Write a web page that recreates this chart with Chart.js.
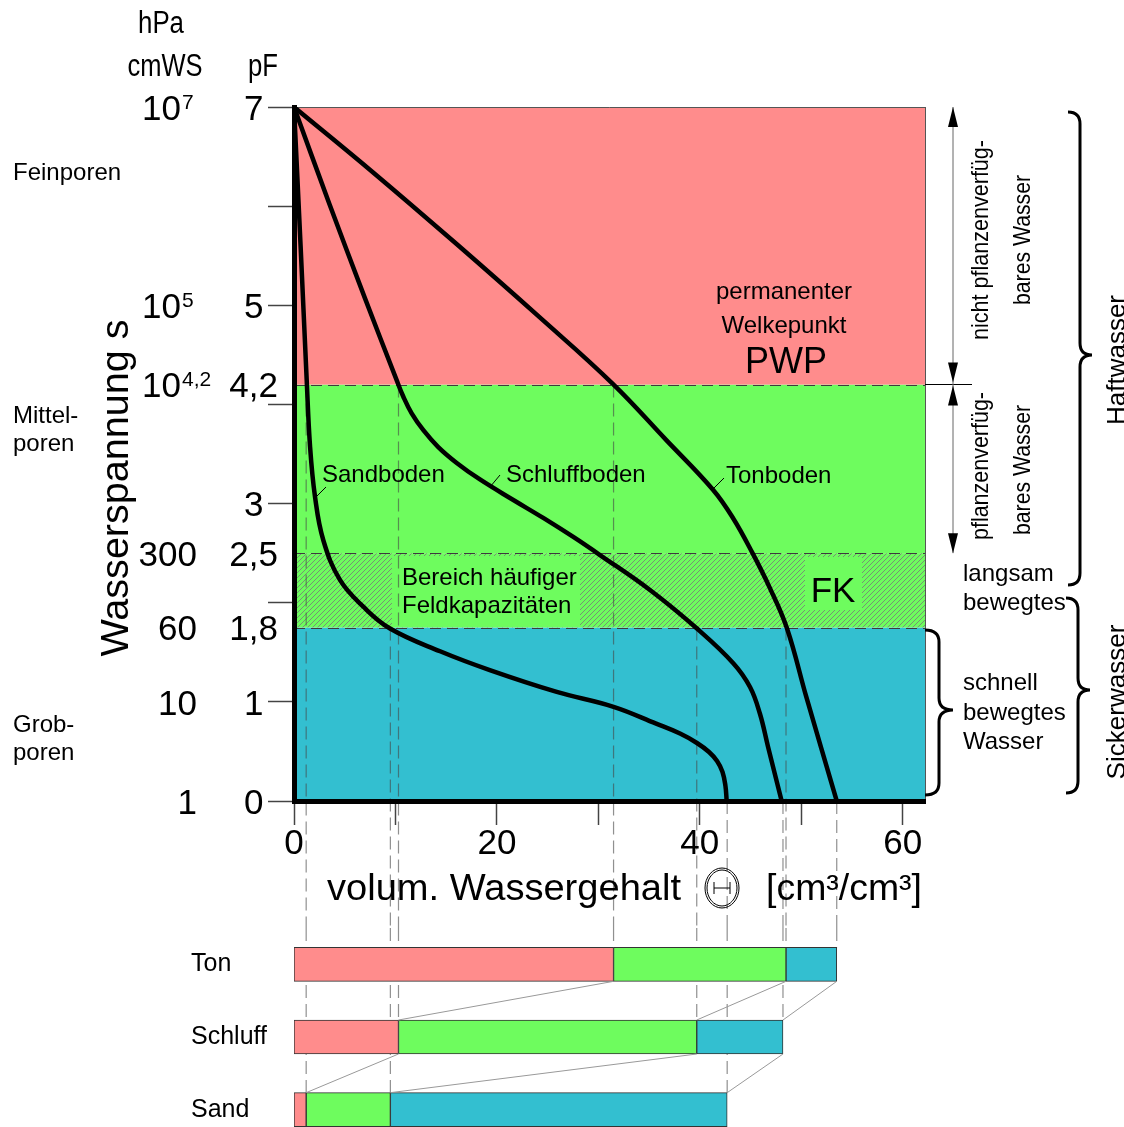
<!DOCTYPE html>
<html>
<head>
<meta charset="utf-8">
<script src="https://cdn.jsdelivr.net/npm/chart.js@4.4.1/dist/chart.umd.min.js"></script>
<style>
  html, body { margin: 0; padding: 0; background: #fff; overflow: hidden; }
  #main { position: absolute; left: 0; top: 0; }
  #bars { position: absolute; left: 0; top: 928px; }
</style>
</head>
<body>
<canvas id="main" width="1124" height="928"></canvas>
<canvas id="bars" width="1124" height="218"></canvas>
<script>
// retention curves: volumetric water content (%) against water tension (pF)
const sandTheta    = [0, 0.65, 1.25, 1.58, 2.07, 2.89, 4.53, 6.83, 9.46, 14.4, 19.3, 25.9, 31.5, 35.7, 38.05, 39.72, 40.91, 41.7, 42.24, 42.53, 42.65];
const sandPF       = [7, 5.6, 4.25, 3.58, 3.07, 2.63, 2.23, 1.96, 1.74, 1.51, 1.32, 1.10, 0.95, 0.78, 0.68, 0.585, 0.494, 0.403, 0.293, 0.151, 0];
const schluffTheta = [0, 3.5, 7.0, 10.1, 10.77, 11.6, 12.75, 14.22, 16.04, 18.33, 21.62, 24.57, 27.53, 30.16, 35.09, 39.69, 43.3, 44.95, 45.93, 46.72, 48.07];
const schluffPF    = [7, 6.02, 5.07, 4.25, 4.08, 3.91, 3.74, 3.57, 3.41, 3.243, 3.036, 2.855, 2.663, 2.481, 2.128, 1.742, 1.39, 1.15, 0.88, 0.55, 0];
const tonTheta     = [0, 7.8, 16.0, 24.2, 31.4, 36.7, 41.3, 43.3, 45.2, 46.9, 48.6, 50.5, 53.5];
const tonPF        = [7, 6.34, 5.62, 4.88, 4.21, 3.64, 3.14, 2.85, 2.50, 2.15, 1.74, 1.05, 0];

// water content at PWP, at FK and at saturation (bars below)
const soils    = ['Ton', 'Schluff', 'Sand'];
const pwpTheta = [31.5, 10.3, 1.2];
const fkTheta  = [48.5, 39.7, 9.5];
const satTheta = [53.5, 48.2, 42.7];

// pF levels of the zones (Grobporen / FK range / Mittelporen / Feinporen)
const bandLimits = [0, 1.75, 2.5, 4.2, 7];
const pwpLevel = 4.2;
const fkLevel = 1.75;

// axis ticks and labels
const pfTicks     = [0, 1, 2, 3, 4, 5, 6, 7];
const pfLabelAt   = [0, 1, 1.75, 2.5, 3, 4.2, 5, 7];
const pfLabels    = ['0', '1', '1,8', '2,5', '3', '4,2', '5', '7'];
const hpaAt       = [0, 1, 1.75, 2.5, 4.2, 5, 7];
const hpaText     = ['1', '10', '60', '300', '10', '10', '10'];
const hpaSup      = ['', '', '', '', '4,2', '5', '7'];
const thetaTicks  = [0, 10, 20, 30, 40, 50, 60];
const thetaLabels = [0, 20, 40, 60];

const RED = '#FF8C8C', GREEN = '#6EFC5E', CYAN = '#33BFD0';
const FONT = "'Liberation Sans', Arial, sans-serif";
Chart.defaults.font.family = FONT;
Chart.defaults.color = '#000';

function pts(xs, ys) {
  return xs.map((v, i) => ({ x: v, y: ys[i] }));
}

function txt(ctx, s, x, y, size, opt) {
  opt = opt || {};
  ctx.save();
  ctx.font = size + 'px ' + FONT;
  ctx.fillStyle = '#000';
  ctx.textAlign = opt.align || 'left';
  ctx.textBaseline = opt.base || 'alphabetic';
  ctx.translate(x, y);
  if (opt.rot) ctx.rotate(opt.rot);
  if (opt.width) {
    let w = ctx.measureText(s).width;
    ctx.scale(opt.width / w, 1);
  }
  ctx.fillText(s, 0, 0);
  ctx.restore();
}

function seg(ctx, x1, y1, x2, y2) {
  ctx.beginPath();
  ctx.moveTo(x1, y1);
  ctx.lineTo(x2, y2);
  ctx.stroke();
}

let hatch = null;
function getHatch(ctx) {
  if (hatch) return hatch;
  const c = document.createElement('canvas');
  c.width = 5; c.height = 5;
  const g = c.getContext('2d');
  g.fillStyle = GREEN;
  g.fillRect(0, 0, 5, 5);
  g.fillStyle = 'rgba(120,120,120,0.8)';
  for (let i = 0; i < 5; i++) g.fillRect(i, 4 - i, 1, 1);
  hatch = ctx.createPattern(c, 'repeat');
  return hatch;
}

function brace(ctx, x0, y1, y2, ym, w) {
  const xm = x0 + w * 0.5, r = 12;
  ctx.beginPath();
  ctx.moveTo(x0, y1);
  ctx.quadraticCurveTo(xm, y1, xm, y1 + r);
  ctx.lineTo(xm, ym - r);
  ctx.quadraticCurveTo(xm, ym, x0 + w, ym);
  ctx.quadraticCurveTo(xm, ym, xm, ym + r);
  ctx.lineTo(xm, y2 - r);
  ctx.quadraticCurveTo(xm, y2, x0, y2);
  ctx.stroke();
}

function arrowHead(ctx, x, y, dir) {
  ctx.beginPath();
  ctx.moveTo(x, y);
  ctx.lineTo(x - 5, y + dir * 20);
  ctx.lineTo(x + 5, y + dir * 20);
  ctx.closePath();
  ctx.fill();
}

const zonesPlugin = {
  id: 'zones',
  beforeDraw(chart) {
    const { ctx, chartArea: a, scales: { x, y } } = chart;
    const fills = [CYAN, getHatch(ctx), GREEN, RED];
    ctx.save();
    for (let i = 0; i < bandLimits.length - 1; i++) {
      const yt = y.getPixelForValue(bandLimits[i + 1]);
      const yb = y.getPixelForValue(bandLimits[i]);
      ctx.fillStyle = fills[i];
      ctx.fillRect(a.left, yt, a.right - a.left, yb - yt);
    }
    // plain backgrounds behind the FK labels
    ctx.fillStyle = GREEN;
    ctx.fillRect(392, 556, 188, 71);
    ctx.fillRect(805, 557, 57, 53);

    // dashed zone borders
    ctx.strokeStyle = '#3c3c3c';
    ctx.lineWidth = 1;
    ctx.setLineDash([11, 6]);
    [fkLevel, 2.5, pwpLevel].forEach(v => {
      const py = Math.round(y.getPixelForValue(v)) + 0.5;
      seg(ctx, a.left, py, a.right, py);
    });

    // dashed drop lines from the curves down to the bars
    ctx.strokeStyle = 'rgba(70,70,70,0.6)';
    ctx.lineWidth = 1.2;
    ctx.setLineDash([13, 6]);
    soils.forEach((s, i) => {
      [[pwpTheta[i], pwpLevel], [fkTheta[i], fkLevel], [satTheta[i], 0]].forEach(p => {
        const px = x.getPixelForValue(p[0]);
        seg(ctx, px, y.getPixelForValue(p[1]), px, chart.height);
      });
    });
    ctx.setLineDash([]);

    // thin frame on top and right
    ctx.strokeStyle = '#555';
    ctx.lineWidth = 1;
    seg(ctx, a.left, a.top + 0.5, a.right, a.top + 0.5);
    seg(ctx, a.right + 0.5, a.top, a.right + 0.5, a.bottom);
    ctx.restore();
  },
  afterDatasetsDraw(chart) {
    const { ctx, chartArea: a, scales: { x, y } } = chart;
    ctx.save();
    // curve labels with leaders
    txt(ctx, 'Sandboden', 322, 482, 24);
    txt(ctx, 'Schluffboden', 506, 482, 24);
    txt(ctx, 'Tonboden', 726, 483, 24);
    ctx.strokeStyle = '#000';
    ctx.lineWidth = 1;
    seg(ctx, 326, 487, 315, 498);
    seg(ctx, 500, 475, 490, 487);
    seg(ctx, 724, 478, 712, 490);

    txt(ctx, 'permanenter', 784, 299, 24, { align: 'center' });
    txt(ctx, 'Welkepunkt', 784, 333, 24, { align: 'center' });
    txt(ctx, 'PWP', 786, 373, 36, { align: 'center' });
    txt(ctx, 'Bereich häufiger', 402, 585, 24);
    txt(ctx, 'Feldkapazitäten', 402, 613, 24);
    txt(ctx, 'FK', 833, 602, 35, { align: 'center' });

    // header and hPa column
    txt(ctx, 'hPa', 161, 33, 31, { align: 'center', width: 46 });
    txt(ctx, 'cmWS', 165, 76, 31, { align: 'center', width: 75 });
    txt(ctx, 'pF', 263, 76, 31, { align: 'center', width: 30 });
    hpaAt.forEach((v, i) => {
      const py = y.getPixelForValue(v) + 3;
      if (hpaSup[i]) {
        txt(ctx, hpaText[i], 181, py, 35, { align: 'right', base: 'middle' });
        txt(ctx, hpaSup[i], 182, py - 7, 21, { base: 'middle' });
      } else {
        txt(ctx, hpaText[i], 197, py, 35, { align: 'right', base: 'middle' });
      }
    });

    // pore classes
    txt(ctx, 'Feinporen', 13, 180, 24);
    txt(ctx, 'Mittel-', 13, 423, 24);
    txt(ctx, 'poren', 13, 451, 24);
    txt(ctx, 'Grob-', 13, 732, 24);
    txt(ctx, 'poren', 13, 760, 24);

    // axis titles
    txt(ctx, 'Wasserspannung s', 128, 488, 38, { align: 'center', rot: -Math.PI / 2, width: 337 });
    txt(ctx, 'volum. Wassergehalt', 327, 900, 36, { width: 354 });
    txt(ctx, '[cm³/cm³]', 922, 900, 36, { align: 'right', width: 156 });
    ctx.lineWidth = 1;
    ctx.beginPath(); ctx.ellipse(722, 888, 17, 20, 0, 0, Math.PI * 2); ctx.stroke();
    ctx.beginPath(); ctx.ellipse(722, 888, 15, 18, 0, 0, Math.PI * 2); ctx.stroke();
    seg(ctx, 714, 888, 730, 888);
    seg(ctx, 714, 882, 714, 894);
    seg(ctx, 730, 882, 730, 894);

    // right hand annotations
    const yPwp = y.getPixelForValue(pwpLevel);
    const yFk = y.getPixelForValue(2.5);
    ctx.strokeStyle = '#000';
    seg(ctx, a.right, Math.round(yPwp) - 0.5, 972, Math.round(yPwp) - 0.5);
    ctx.strokeStyle = '#666';
    seg(ctx, 953, a.top, 953, yFk);
    ctx.fillStyle = '#000';
    arrowHead(ctx, 953, a.top, 1);
    arrowHead(ctx, 953, yPwp - 2, -1);
    arrowHead(ctx, 953, yPwp + 1, 1);
    arrowHead(ctx, 953, yFk, -1);

    txt(ctx, 'nicht pflanzenverfüg-', 988, 240, 24, { align: 'center', rot: -Math.PI / 2, width: 200 });
    txt(ctx, 'bares Wasser', 1030, 240, 24, { align: 'center', rot: -Math.PI / 2, width: 130 });
    txt(ctx, 'pflanzenverfüg-', 988, 466, 24, { align: 'center', rot: -Math.PI / 2, width: 148 });
    txt(ctx, 'bares Wasser', 1030, 470, 24, { align: 'center', rot: -Math.PI / 2, width: 130 });
    txt(ctx, 'Haftwasser', 1125, 360, 26, { align: 'center', rot: -Math.PI / 2, width: 130 });
    txt(ctx, 'Sickerwasser', 1125, 702, 26, { align: 'center', rot: -Math.PI / 2, width: 155 });

    txt(ctx, 'langsam', 963, 581, 24);
    txt(ctx, 'bewegtes', 963, 610, 24);
    txt(ctx, 'schnell', 963, 690, 24);
    txt(ctx, 'bewegtes', 963, 720, 24);
    txt(ctx, 'Wasser', 963, 749, 24);

    ctx.strokeStyle = '#000';
    ctx.lineWidth = 3;
    brace(ctx, 1068, 112, 585, 355, 24);
    brace(ctx, 1066, 598, 793, 690, 24);
    brace(ctx, 925, 630, 795, 710, 28);
    ctx.restore();
  }
};

const curveStyle = {
  showLine: true,
  borderColor: '#000',
  borderWidth: 4.5,
  pointRadius: 0,
  tension: 0.4,
  borderCapStyle: 'round',
  borderJoinStyle: 'round'
};

new Chart(document.getElementById('main'), {
  type: 'scatter',
  data: {
    datasets: [
      Object.assign({ label: 'Sandboden', data: pts(sandTheta, sandPF) }, curveStyle),
      Object.assign({ label: 'Schluffboden', data: pts(schluffTheta, schluffPF) }, curveStyle),
      Object.assign({ label: 'Tonboden', data: pts(tonTheta, tonPF) }, curveStyle)
    ]
  },
  options: {
    responsive: false,
    animation: false,
    layout: { padding: { top: 107, right: 199, bottom: 0, left: 0 } },
    plugins: { legend: { display: false }, tooltip: { enabled: false } },
    scales: {
      x: {
        type: 'linear',
        min: 0,
        max: 62.2,
        afterFit: s => { s.height = 127; },
        afterBuildTicks: s => { s.ticks = thetaTicks.map(v => ({ value: v })); },
        border: { display: true, color: '#000', width: 5 },
        grid: { drawOnChartArea: false, tickLength: 24, tickColor: '#444', tickWidth: 1.5 },
        ticks: {
          autoSkip: false, maxRotation: 0, minRotation: 0, padding: -2,
          font: { size: 35 },
          callback: v => thetaLabels.includes(v) ? String(v) : ''
        }
      },
      y: {
        type: 'linear',
        min: 0,
        max: 7,
        afterFit: s => { s.width = 294; },
        afterBuildTicks: s => {
          const vals = Array.from(new Set(pfTicks.concat(pfLabelAt))).sort((p, q) => p - q);
          s.ticks = vals.map(v => ({ value: v }));
        },
        border: { display: true, color: '#000', width: 5 },
        grid: {
          drawOnChartArea: false,
          tickLength: 26,
          tickWidth: 1.5,
          tickColor: c => (c.tick && pfTicks.includes(c.tick.value)) ? '#444' : 'rgba(0,0,0,0)'
        },
        ticks: {
          autoSkip: false,
          crossAlign: 'center',
          padding: -10,
          labelOffset: 3,
          font: { size: 35 },
          callback: v => {
            const k = pfLabelAt.indexOf(v);
            return k >= 0 ? pfLabels[k] : '';
          }
        }
      }
    }
  },
  plugins: [zonesPlugin]
});

// ---- bars with the water portions per soil ----
const BAR_H = 34;
const barLinks = {
  id: 'barLinks',
  beforeDatasetsDraw(chart) {
    const { ctx, scales: { x, y } } = chart;
    ctx.save();
    ctx.strokeStyle = 'rgba(70,70,70,0.6)';
    ctx.lineWidth = 1.2;
    ctx.setLineDash([13, 6]);
    soils.forEach((s, i) => {
      const top = y.getPixelForValue(i) - BAR_H / 2;
      [pwpTheta[i], fkTheta[i], satTheta[i]].forEach(v => {
        const px = x.getPixelForValue(v);
        seg(ctx, px, 0, px, top);
      });
    });
    ctx.restore();
  },
  afterDatasetsDraw(chart) {
    const { ctx, scales: { x, y } } = chart;
    ctx.save();
    ctx.strokeStyle = '#999';
    ctx.lineWidth = 1;
    for (let i = 0; i < soils.length - 1; i++) {
      const yb = y.getPixelForValue(i) + BAR_H / 2;
      const yt = y.getPixelForValue(i + 1) - BAR_H / 2;
      [pwpTheta, fkTheta, satTheta].forEach(arr => {
        seg(ctx, x.getPixelForValue(arr[i]), yb, x.getPixelForValue(arr[i + 1]), yt);
      });
    }
    ctx.restore();
  }
};

const barStyle = { borderColor: '#333', borderWidth: 1, borderSkipped: false, barThickness: BAR_H };

new Chart(document.getElementById('bars'), {
  type: 'bar',
  data: {
    labels: soils,
    datasets: [
      Object.assign({ label: 'nicht pflanzenverfügbar', data: soils.map((s, i) => [0, pwpTheta[i]]), backgroundColor: RED }, barStyle),
      Object.assign({ label: 'pflanzenverfügbar', data: soils.map((s, i) => [pwpTheta[i], fkTheta[i]]), backgroundColor: GREEN }, barStyle),
      Object.assign({ label: 'Sickerwasser', data: soils.map((s, i) => [fkTheta[i], satTheta[i]]), backgroundColor: CYAN }, barStyle)
    ]
  },
  options: {
    indexAxis: 'y',
    responsive: false,
    animation: false,
    datasets: { bar: { grouped: false } },
    layout: { autoPadding: false, padding: { top: 0, right: 199, bottom: 0, left: 191 } },
    plugins: { legend: { display: false }, tooltip: { enabled: false } },
    scales: {
      x: { type: 'linear', min: 0, max: 62.2, display: false },
      y: {
        type: 'category',
        afterFit: s => { s.width = 103; s.paddingTop = 0; s.paddingBottom = 0; },
        grid: { display: false },
        border: { display: false },
        ticks: { crossAlign: 'far', font: { size: 25 } }
      }
    }
  },
  plugins: [barLinks]
});
</script>
</body>
</html>
